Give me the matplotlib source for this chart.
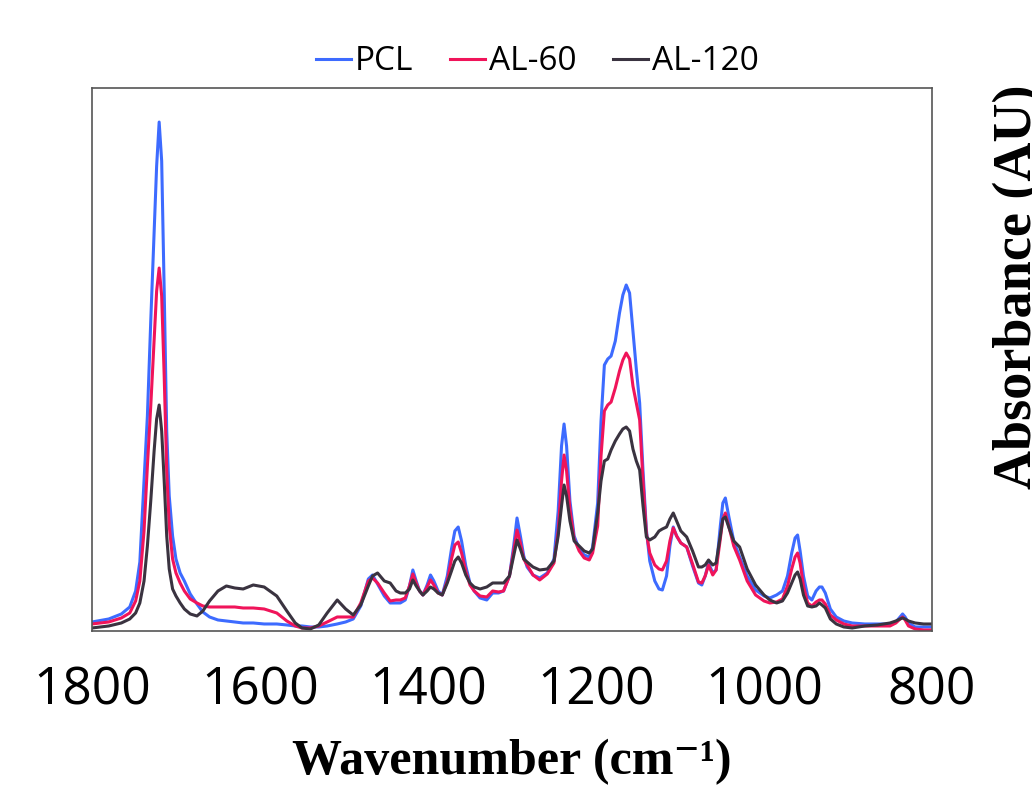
import numpy as np
import matplotlib.pyplot as plt

# wavenumber grid (cm-1) and absorbance (a.u.)
wn = [1800, 1780, 1765, 1755, 1748, 1743, 1738, 1734, 1730, 1726, 1723, 1720,
      1717, 1714, 1711, 1708, 1704, 1700, 1695, 1690, 1683, 1675, 1668, 1660,
      1650, 1640, 1630, 1620, 1608, 1595, 1580, 1568, 1558, 1550, 1540, 1530,
      1520, 1508, 1498, 1489, 1480, 1471, 1466, 1460, 1452, 1445, 1438, 1433,
      1427, 1422, 1418, 1414, 1410, 1406, 1401, 1397, 1393, 1388, 1383, 1377,
      1372, 1368, 1364, 1360, 1355, 1350, 1345, 1338, 1330, 1323, 1316, 1310,
      1303, 1298, 1294, 1290, 1286, 1282, 1275, 1267, 1258, 1250, 1245, 1241,
      1238, 1235, 1231, 1226, 1220, 1214, 1208, 1204, 1198, 1194, 1190, 1186,
      1182, 1177, 1172, 1168, 1164, 1160, 1156, 1152, 1148, 1144, 1140, 1136,
      1130, 1125, 1121, 1116, 1112, 1108, 1104, 1099, 1092, 1085, 1078, 1074,
      1070, 1066, 1061, 1057, 1052, 1049, 1046, 1042, 1036, 1029, 1020, 1010,
      1000, 993, 985, 978, 972, 967, 963, 960, 957, 953, 948, 943, 938, 934,
      931, 927, 921, 914, 905, 895, 880, 865, 850, 843, 838, 835, 832, 828,
      820, 810, 800]

pcl = [9, 12, 17, 24, 40, 69, 150, 215, 310, 400, 465, 509,
       470, 340, 200, 135, 95, 72, 58, 50, 37, 27, 19, 14,
       11, 10, 9, 8, 8, 7, 7, 6, 5, 5, 4, 4,
       5, 7, 9, 12, 25, 52, 56, 47, 35, 28, 28, 28,
       31, 45, 61, 50, 40, 36, 46, 56, 50, 40, 36, 55,
       82, 100, 104, 90, 65, 48, 40, 33, 31, 38, 38, 40,
       55, 85, 113, 95, 75, 64, 56, 53, 58, 72, 120, 185,
       207, 185, 130, 95, 82, 76, 74, 84, 128, 210, 266, 272,
       275, 290, 318, 336, 346, 338, 300, 262, 228, 160, 101, 70,
       50, 42, 41, 55, 85, 104, 95, 88, 84, 65, 48, 46,
       55, 68, 58, 61, 105, 128, 133, 115, 90, 74, 55, 41,
       35, 33, 36, 40, 55, 78, 93, 96, 80, 55, 35, 31, 40, 44,
       44, 38, 22, 14, 10, 8, 7, 7, 7, 9, 14, 17, 14, 8,
       4, 4, 4]

al60 = [7, 9, 13, 18, 30, 50, 100, 165, 225, 290, 340, 363,
        335, 255, 160, 105, 72, 58, 48, 40, 32, 28, 25, 24,
        24, 24, 24, 23, 23, 22, 18, 10, 5, 3, 3, 5,
        9, 14, 14, 14, 28, 50, 53, 48, 38, 30, 31, 31,
        33, 45, 57, 48, 40, 36, 44, 51, 46, 38, 36, 50,
        72, 86, 89, 78, 60, 46, 40, 35, 34, 40, 39, 40,
        55, 80, 101, 88, 72, 66, 56, 51, 57, 68, 100, 150,
        176, 160, 122, 92, 80, 73, 71, 78, 105, 175, 220, 226,
        229, 243, 260, 271, 278, 272, 245, 228, 211, 150, 98, 78,
        66, 62, 61, 70, 90, 103, 95, 88, 84, 67, 49, 48,
        55, 66, 56, 61, 92, 112, 118, 105, 85, 71, 50, 36,
        30, 28, 29, 32, 45, 62, 74, 78, 68, 45, 28, 25, 29, 31,
        31, 27, 16, 11, 7, 5, 5, 5, 5, 8, 12, 14, 11, 5,
        2, 1, 1]

al120 = [3, 5, 8, 12, 18, 28, 50, 85, 130, 180, 212, 226,
         200, 150, 95, 62, 42, 35, 28, 22, 17, 15, 20, 30,
         40, 45, 43, 42, 46, 44, 35, 20, 8, 3, 2, 6,
         18, 31, 22, 16, 26, 45, 55, 58, 50, 48, 40, 38,
         38, 42, 51, 45, 40, 36, 40, 44, 42, 38, 36, 48,
         60, 70, 74, 68, 56, 48, 44, 42, 44, 48, 48, 48,
         55, 75, 91, 82, 72, 69, 64, 61, 62, 70, 95, 125,
         146, 135, 110, 90, 85, 80, 78, 82, 118, 150, 170, 172,
         181, 190, 197, 202, 204, 200, 182, 170, 161, 125, 94, 91,
         94, 100, 102, 104, 112, 118, 110, 100, 94, 80, 64, 64,
         66, 71, 66, 68, 95, 112, 114, 104, 90, 84, 62, 46,
         36, 31, 28, 30, 38, 48, 56, 59, 52, 36, 25, 24, 25, 28,
         26, 23, 12, 7, 4, 3, 5, 6, 8, 10, 12, 13, 12, 10,
         8, 7, 7]

series = [("PCL", pcl, "#3d6bff"),
          ("AL-60", al60, "#f0145a"),
          ("AL-120", al120, "#3a3340")]

fig = plt.figure(figsize=(10.32, 7.91), dpi=100)
ax = fig.add_axes([0.0891, 0.2023, 0.8140, 0.6864])

for name, vals, col in series:
    ax.plot(wn, np.array(vals) / 1000.0, color=col, lw=2.2, label=name,
            solid_joinstyle="round")

ax.set_xlim(1800, 800)
ax.set_ylim(0, 0.543)
ax.set_xticks([1800, 1600, 1400, 1200, 1000, 800])
ax.set_yticks([])
ax.tick_params(axis="x", length=0, pad=25, labelsize=37)
for lab in ax.get_xticklabels():
    lab.set_fontfamily("Open Sans")
for sp in ax.spines.values():
    sp.set_color("#555555")
    sp.set_linewidth(1.2)

ax.set_xlabel("Wavenumber (cm\u207b\u00b9)", fontsize=36, fontweight="bold",
              family=["Liberation Serif", "DejaVu Serif"], labelpad=16)

fig.text(0.962, 0.638, "Absorbance (AU)", rotation=90, fontsize=39,
         fontweight="bold", family="Liberation Serif", ha="left", va="center")

leg = ax.legend(loc="lower center", bbox_to_anchor=(0.53, 0.99), ncol=3,
                frameon=False, prop={"family": "Open Sans", "size": 24},
                handlelength=1.05, handletextpad=0.12, columnspacing=1.1,
                borderaxespad=0.05)

fig.savefig("out.png", dpi=100)
